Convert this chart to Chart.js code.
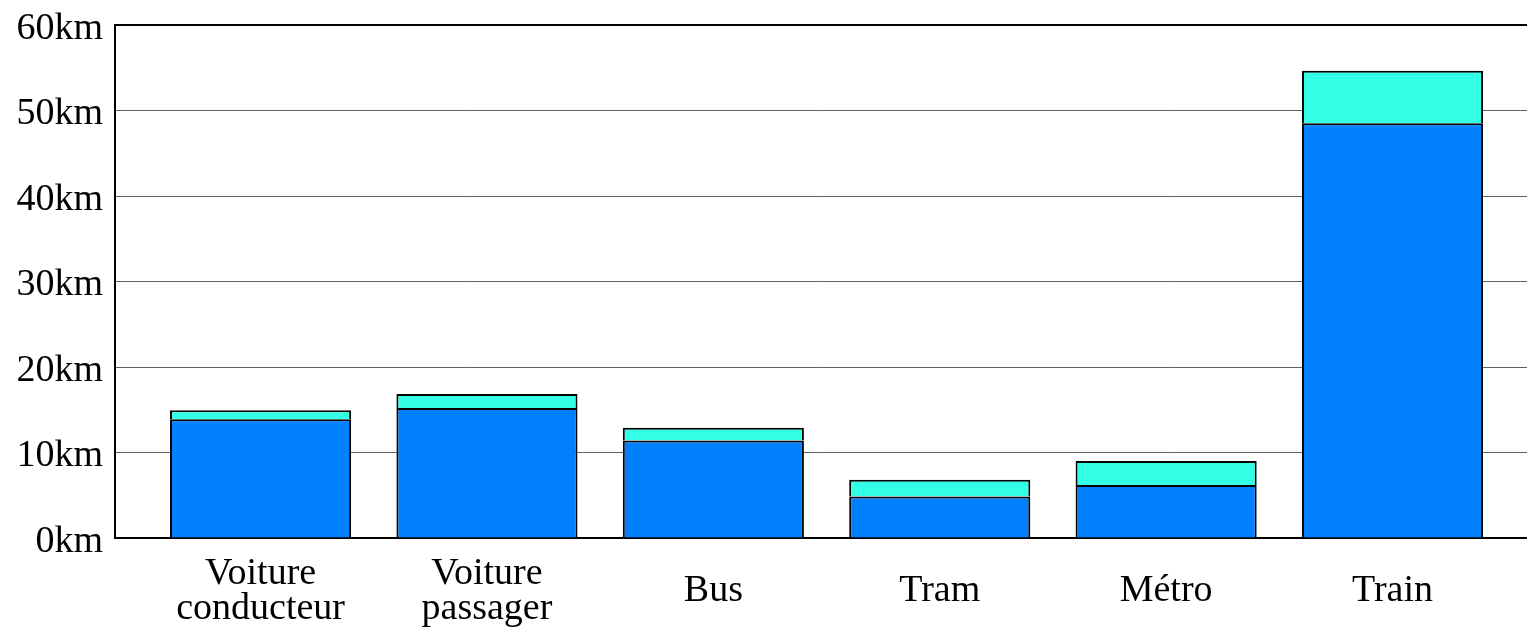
<!DOCTYPE html>
<html>
<head>
<meta charset="utf-8">
<script src="https://cdn.jsdelivr.net/npm/chart.js@4"></script>
<style>
  body { margin: 0; background: #fff; }
</style>
</head>
<body>
<canvas id="chart" width="1527" height="631"></canvas>
<script>
// Categories and values (km)
const categories = [['Voiture', 'conducteur'], ['Voiture', 'passager'], 'Bus', 'Tram', 'Métro', 'Train'];
const baseValues = [13.9, 15.2, 11.4, 4.85, 6.2, 48.5];
const extraValues = [1.05, 1.65, 1.5, 1.95, 2.8, 6.15];
const yTicks = [0, 10, 20, 30, 40, 50, 60];

const serif = "'Liberation Serif', 'Times New Roman', serif";

// Bars sit on a linear x axis so the left/right margins match the original
const toPoints = values => values.map((v, i) => ({ x: i, y: v }));

const ctx = document.getElementById('chart').getContext('2d');
const chart = new Chart(ctx, {
    type: 'bar',
    data: {
        datasets: [{
            data: toPoints(baseValues),
            backgroundColor: '#0080ff',
            borderColor: '#000',
            borderWidth: 2,
            barPercentage: 1,
            categoryPercentage: 0.8
        }, {
            data: toPoints(extraValues),
            backgroundColor: '#33ffe6',
            borderColor: '#000',
            borderWidth: 2,
            barPercentage: 1,
            categoryPercentage: 0.8
        }]
    },
    options: {
        responsive: false,
        animation: false,
        devicePixelRatio: 1,
        layout: { padding: { top: 25, right: 0, left: 0, bottom: 0 } },
        plugins: {
            legend: { display: false },
            tooltip: { enabled: false }
        },
        scales: {
            x: {
                type: 'linear',
                stacked: true,
                offset: false,
                bounds: 'data',
                min: -0.643,
                max: 5.594,
                afterBuildTicks: scale => {
                    scale.ticks = categories.map((_, i) => ({ value: i }));
                },
                afterFit: scale => {
                    scale.height = 93;
                    scale.paddingLeft = 0;
                    scale.paddingRight = 0;
                },
                grid: { display: false },
                border: { display: true, color: '#000', width: 2 },
                ticks: {
                    color: '#000',
                    padding: 28,
                    crossAlign: 'center',
                    maxRotation: 0,
                    autoSkip: false,
                    font: { family: serif, size: 38, lineHeight: 0.92 },
                    callback: value => categories[value]
                }
            },
            y: {
                stacked: true,
                min: 0,
                max: 60,
                afterBuildTicks: scale => {
                    scale.ticks = yTicks.map(v => ({ value: v }));
                },
                afterFit: scale => {
                    scale.width = 115;
                    scale.paddingTop = 0;
                    scale.paddingBottom = 0;
                },
                grid: {
                    drawTicks: false,
                    color: c => (c.tick && c.tick.value === 60) ? '#000' : '#606060',
                    lineWidth: c => (c.tick && c.tick.value === 60) ? 2 : 1
                },
                border: { display: true, color: '#000', width: 2 },
                ticks: {
                    color: '#000',
                    padding: 12,
                    labelOffset: 4,
                    font: { family: serif, size: 38 },
                    callback: value => value + 'km'
                }
            }
        }
    }
});
</script>
</body>
</html>
